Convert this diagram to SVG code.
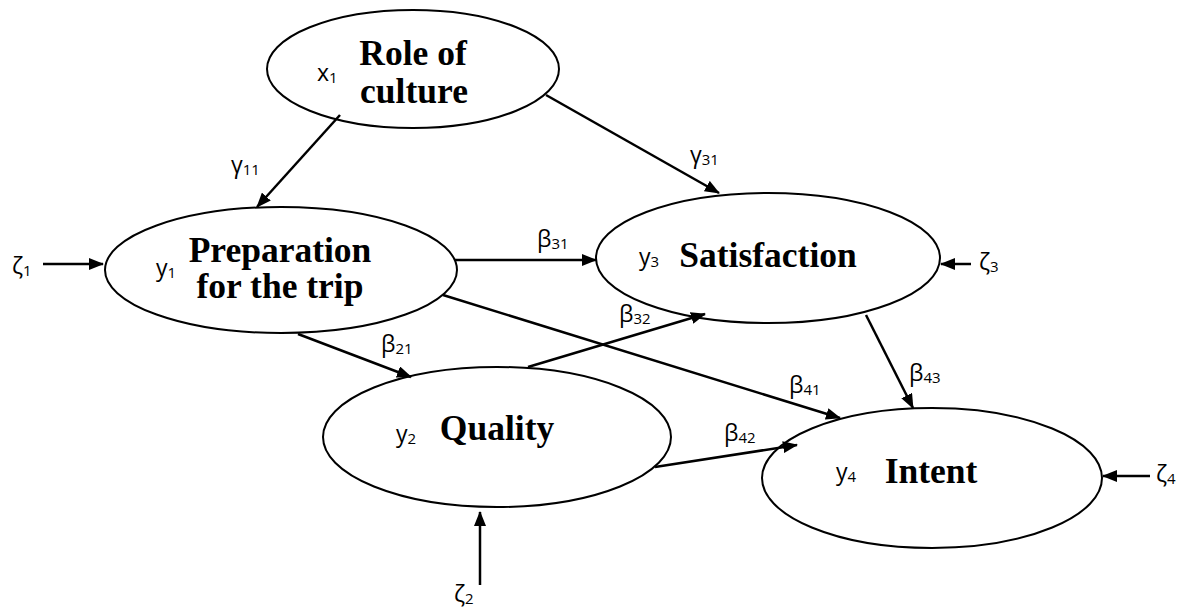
<svg xmlns="http://www.w3.org/2000/svg" width="1183" height="612" viewBox="0 0 1183 612">
  <style>
    .node { fill: #ffffff; stroke: #000000; stroke-width: 2; }
    .title { font-family: "Liberation Serif", "Times New Roman", serif; font-weight: bold; font-size: 35.5px; fill: #000000; text-anchor: middle; }
    .sym { font-family: "Open Sans", "Noto Sans", "DejaVu Sans", sans-serif; font-size: 23px; fill: #000000; }
    .sub { font-size: 15px; }
    .edge { stroke: #000000; stroke-width: 2.5; fill: none; marker-end: url(#arrow); }
  </style>
  <defs>
    <marker id="arrow" viewBox="0 0 15 12" refX="14" refY="6" markerWidth="15" markerHeight="12" markerUnits="userSpaceOnUse" orient="auto">
      <path d="M0,0 L15,6 L0,12 Z" fill="#000000"/>
    </marker>
  </defs>
  <rect width="1183" height="612" fill="#ffffff"/>

  <g id="role-of-culture">
    <ellipse class="node" cx="413" cy="69" rx="146" ry="59"/>
    <text class="sym" x="317" y="81">x<tspan class="sub" dy="2">1</tspan></text>
    <text class="title" x="413" y="65">Role of</text>
    <text class="title" x="414" y="103">culture</text>
  </g>

  <g id="preparation">
    <ellipse class="node" cx="281" cy="270" rx="176" ry="63"/>
    <text class="sym" x="156" y="276">y<tspan class="sub" dy="2">1</tspan></text>
    <text class="title" x="280" y="262">Preparation</text>
    <text class="title" x="280" y="298">for the trip</text>
  </g>

  <g id="satisfaction">
    <ellipse class="node" cx="768" cy="258" rx="172" ry="65"/>
    <text class="sym" x="639" y="265">y<tspan class="sub" dy="2">3</tspan></text>
    <text class="title" x="768" y="267">Satisfaction</text>
  </g>

  <g id="quality">
    <ellipse class="node" cx="497" cy="437" rx="174" ry="70"/>
    <text class="sym" x="396" y="442">y<tspan class="sub" dy="2">2</tspan></text>
    <text class="title" x="497" y="440">Quality</text>
  </g>

  <g id="intent">
    <ellipse class="node" cx="932" cy="478" rx="170" ry="70"/>
    <text class="sym" x="836" y="480">y<tspan class="sub" dy="2">4</tspan></text>
    <text class="title" x="931" y="483">Intent</text>
  </g>

  <g id="connectors">
    <line class="edge" x1="340" y1="115" x2="257" y2="207"/>
    <line class="edge" x1="546" y1="95" x2="719" y2="193"/>
    <line class="edge" x1="455" y1="260" x2="596" y2="260"/>
    <line class="edge" x1="443" y1="295" x2="840" y2="418"/>
    <line class="edge" x1="298" y1="334" x2="411" y2="377"/>
    <line class="edge" x1="528" y1="367" x2="705" y2="314"/>
    <line class="edge" x1="655" y1="467" x2="797" y2="445"/>
    <line class="edge" x1="866" y1="315" x2="913" y2="408"/>
    <line class="edge" x1="43" y1="264" x2="103" y2="264"/>
    <line class="edge" x1="971" y1="264" x2="941" y2="264"/>
    <line class="edge" x1="1150" y1="476" x2="1103" y2="476"/>
    <line class="edge" x1="480" y1="585" x2="480" y2="512"/>
  </g>

  <g id="coefficients" class="sym">
    <text x="231" y="173">γ<tspan class="sub" dy="2">11</tspan></text>
    <text x="690" y="163">γ<tspan class="sub" dy="2">31</tspan></text>
    <text x="537" y="247">β<tspan class="sub" dy="2">31</tspan></text>
    <text x="619" y="322">β<tspan class="sub" dy="2">32</tspan></text>
    <text x="381" y="352">β<tspan class="sub" dy="2">21</tspan></text>
    <text x="789" y="393">β<tspan class="sub" dy="2">41</tspan></text>
    <text x="909" y="381">β<tspan class="sub" dy="2">43</tspan></text>
    <text x="724" y="441">β<tspan class="sub" dy="2">42</tspan></text>
  </g>

  <g id="disturbances" class="sym">
    <text x="12" y="274">ζ<tspan class="sub" dy="2">1</tspan></text>
    <text x="979" y="270">ζ<tspan class="sub" dy="2">3</tspan></text>
    <text x="1156" y="482">ζ<tspan class="sub" dy="2">4</tspan></text>
    <text x="454" y="602">ζ<tspan class="sub" dy="2">2</tspan></text>
  </g>
</svg>
